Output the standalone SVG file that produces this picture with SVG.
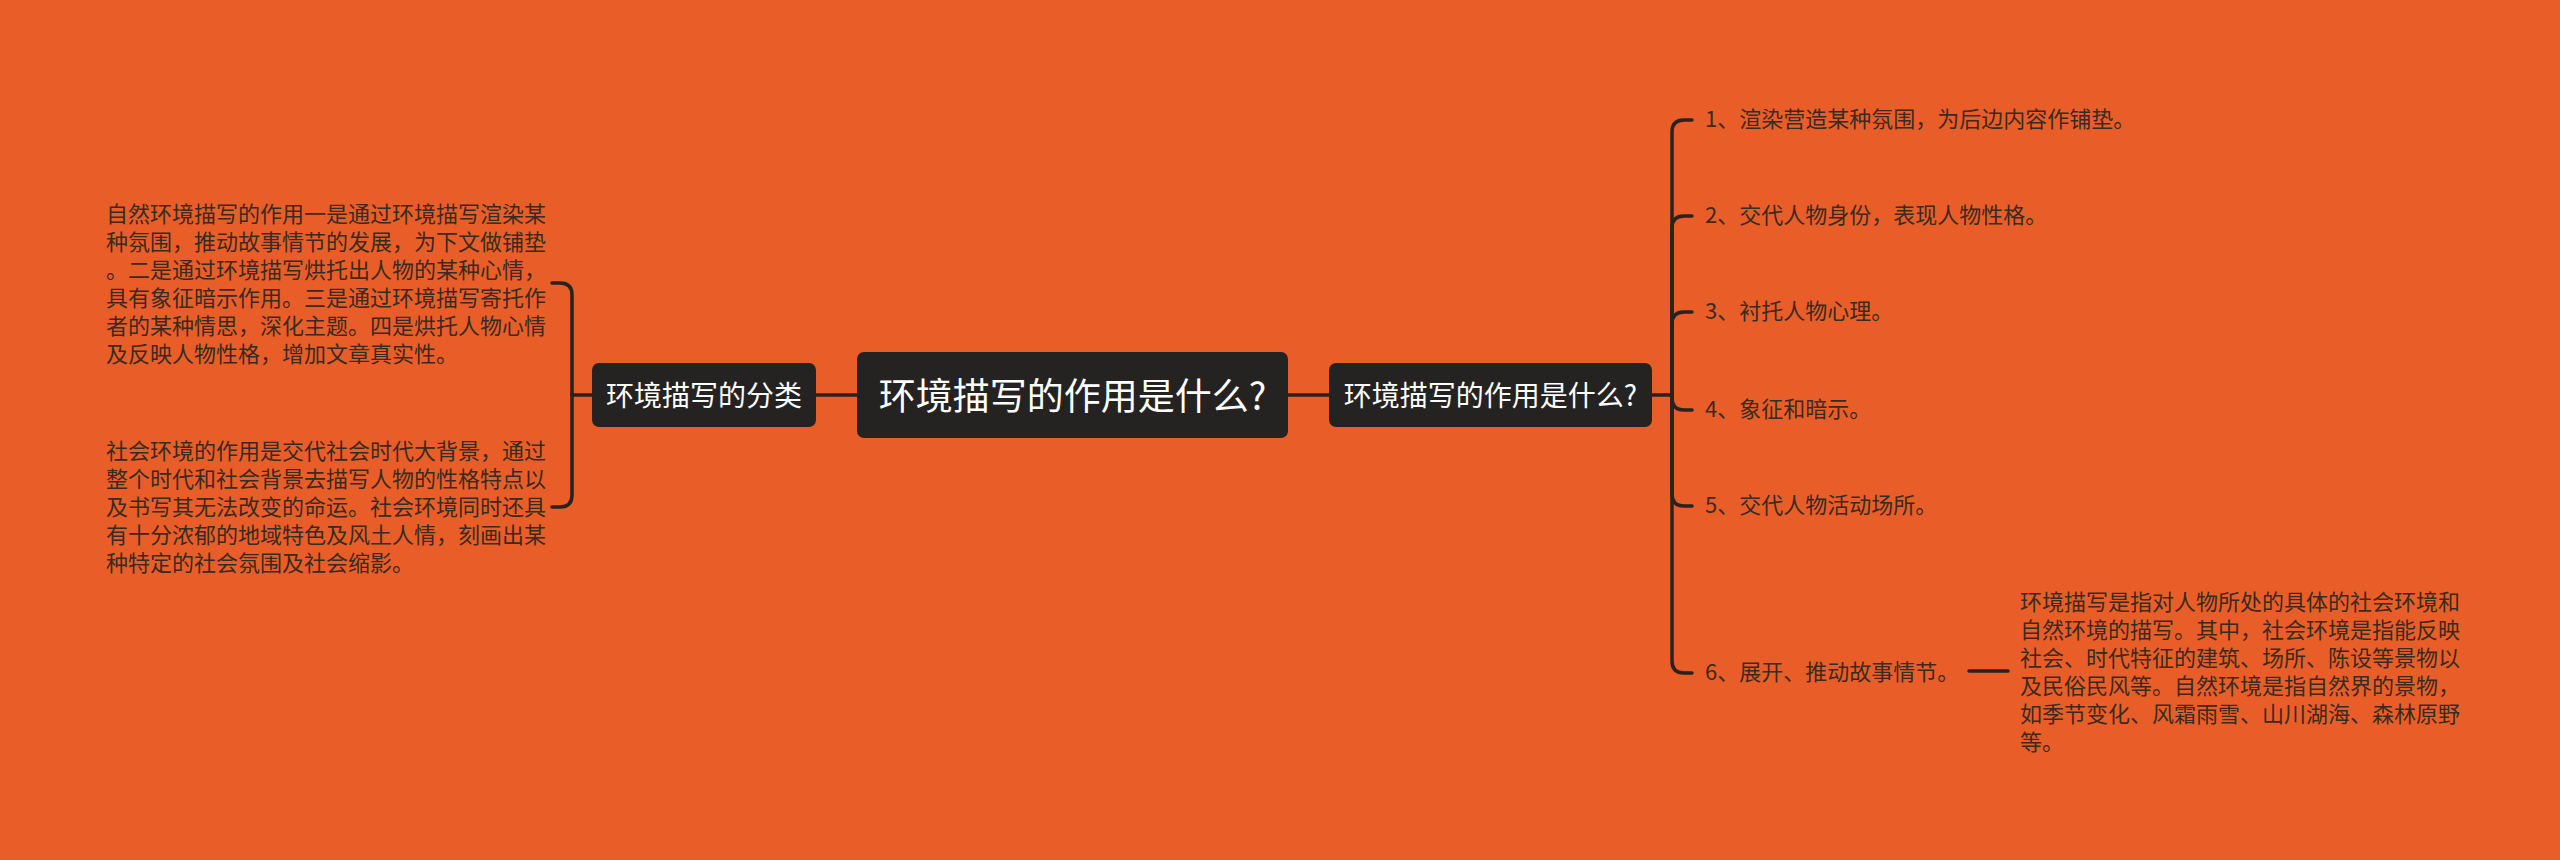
<svg xmlns="http://www.w3.org/2000/svg" width="2560" height="860" viewBox="0 0 2560 860">
<style>
.bg{fill:#E95E28}
.box{fill:#252321}
.nt{fill:#ffffff;font-family:"Noto Sans CJK SC","Noto Sans",sans-serif;text-anchor:middle;dominant-baseline:central}
.tx{fill:#3a2a1f;font-family:"Noto Sans CJK SC","Noto Sans",sans-serif;font-size:22px;dominant-baseline:central}
.ln{fill:none;stroke:#2a221d;stroke-width:3.5;stroke-linecap:round}
</style>
<rect class="bg" x="0" y="0" width="2560" height="860"/>
<g id="connectors">
<path class="ln" d="M816,395 H857"/>
<path class="ln" d="M1288,395 H1329"/>
<path class="ln" d="M592,395 H572"/>
<path class="ln" d="M572,395 V295 Q572,283 560,283 H552"/>
<path class="ln" d="M572,395 V495 Q572,507 560,507 H552"/>
<path class="ln" d="M1652,395 H1672"/>
<path class="ln" d="M1672,395 V132 Q1672,120 1684,120 H1692"/>
<path class="ln" d="M1672,395 V228 Q1672,216 1684,216 H1692"/>
<path class="ln" d="M1672,395 V324 Q1672,312 1684,312 H1692"/>
<path class="ln" d="M1672,395 V398 Q1672,410 1684,410 H1692"/>
<path class="ln" d="M1672,395 V494 Q1672,506 1684,506 H1692"/>
<path class="ln" d="M1672,395 V661 Q1672,673 1684,673 H1692"/>
<path class="ln" d="M1969,671 H2008"/>
</g>
<g id="root">
<rect class="box" x="857" y="352" width="431" height="86" rx="7"/>
<text class="nt" x="1072.5" y="394" font-size="37">环境描写的作用是什么?</text>
</g>
<g id="left-branch">
<rect class="box" x="592" y="363" width="224" height="64" rx="7"/>
<text class="nt" x="704" y="394" font-size="28">环境描写的分类</text>
</g>
<g id="right-branch">
<rect class="box" x="1329" y="363" width="323" height="64" rx="7"/>
<text class="nt" x="1490.5" y="394" font-size="28">环境描写的作用是什么?</text>
</g>
<g id="left-text-1">
<text class="tx">
<tspan x="106" y="212">自然环境描写的作用一是通过环境描写渲染某</tspan>
<tspan x="106" y="240">种氛围，推动故事情节的发展，为下文做铺垫</tspan>
<tspan x="106" y="268">。二是通过环境描写烘托出人物的某种心情，</tspan>
<tspan x="106" y="296">具有象征暗示作用。三是通过环境描写寄托作</tspan>
<tspan x="106" y="324">者的某种情思，深化主题。四是烘托人物心情</tspan>
<tspan x="106" y="352">及反映人物性格，增加文章真实性。</tspan>
</text>
</g>
<g id="left-text-2">
<text class="tx">
<tspan x="106" y="449">社会环境的作用是交代社会时代大背景，通过</tspan>
<tspan x="106" y="477">整个时代和社会背景去描写人物的性格特点以</tspan>
<tspan x="106" y="505">及书写其无法改变的命运。社会环境同时还具</tspan>
<tspan x="106" y="533">有十分浓郁的地域特色及风土人情，刻画出某</tspan>
<tspan x="106" y="561">种特定的社会氛围及社会缩影。</tspan>
</text>
</g>
<g id="item-1"><text class="tx" x="1705" y="117">1、渲染营造某种氛围，为后边内容作铺垫。</text></g>
<g id="item-2"><text class="tx" x="1705" y="213">2、交代人物身份，表现人物性格。</text></g>
<g id="item-3"><text class="tx" x="1705" y="309">3、衬托人物心理。</text></g>
<g id="item-4"><text class="tx" x="1705" y="407">4、象征和暗示。</text></g>
<g id="item-5"><text class="tx" x="1705" y="503">5、交代人物活动场所。</text></g>
<g id="item-6"><text class="tx" x="1705" y="670">6、展开、推动故事情节。</text></g>
<g id="item-6-detail">
<text class="tx">
<tspan x="2020" y="600">环境描写是指对人物所处的具体的社会环境和</tspan>
<tspan x="2020" y="628">自然环境的描写。其中，社会环境是指能反映</tspan>
<tspan x="2020" y="656">社会、时代特征的建筑、场所、陈设等景物以</tspan>
<tspan x="2020" y="684">及民俗民风等。自然环境是指自然界的景物，</tspan>
<tspan x="2020" y="712">如季节变化、风霜雨雪、山川湖海、森林原野</tspan>
<tspan x="2020" y="740">等。</tspan>
</text>
</g>
</svg>
